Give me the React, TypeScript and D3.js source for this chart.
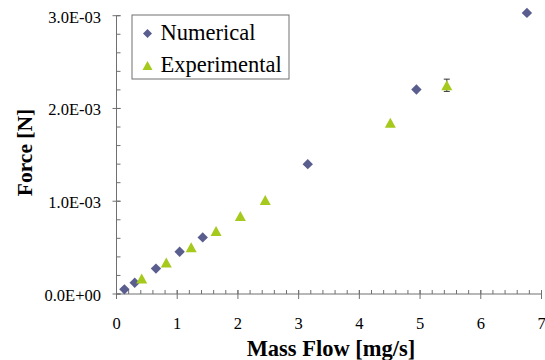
import React from "react";
import * as d3 from "d3";

const numericalX = [0.13, 0.3, 0.65, 1.04, 1.42, 3.15, 4.94, 6.76];
const numericalY = [0.05e-3, 0.122e-3, 0.274e-3, 0.455e-3, 0.61e-3, 1.4e-3, 2.205e-3, 3.03e-3];
const experimentalX = [0.415, 0.82, 1.23, 1.64, 2.04, 2.45, 4.51, 5.44];
const experimentalY = [0.167e-3, 0.34e-3, 0.505e-3, 0.678e-3, 0.84e-3, 1.013e-3, 1.845e-3, 2.25e-3];
const experimentalErr = [0, 0, 0, 0, 0, 0, 0, 0.066e-3];
const xTicks = [0, 1, 2, 3, 4, 5, 6, 7];
const yTicks = [0, 1e-3, 2e-3, 3e-3];
const yTickLabels = ["0.0E+00", "1.0E-03", "2.0E-03", "3.0E-03"];
const legendLabels = ["Numerical", "Experimental"];

const W = 545;
const H = 360;
const DIAMOND = "#5A5E8F";
const TRI = "#A5C91C";
const AXIS = "#707070";
const FONT = "Liberation Serif";

const diamondPath = (r: number) => `M0,${-r}L${r},0L0,${r}L${-r},0Z`;
const trianglePath = (w: number, h: number) => `M0,${-h / 2}L${w / 2},${h / 2}L${-w / 2},${h / 2}Z`;

export default function App() {
  const x = d3.scaleLinear().domain([0, 7]).range([116.5, 541.5]);
  const y = d3.scaleLinear().domain([0, 3e-3]).range([294, 15.7]);
  const xMinor = d3.range(0, 7.0001, 0.2);
  const yMinor = d3.range(0, 3.0001e-3, 0.2e-3);
  const x0 = x(0);
  const y0 = y(0);

  return (
    <svg width={W} height={H} style={{ position: "absolute", left: 0, top: 0, background: "#fff" }}>
      <rect x={0} y={0} width={W} height={H} fill="#fff" />
      <line x1={x0} x2={x(7)} y1={y0} y2={y0} stroke={AXIS} strokeWidth={1} />
      <line x1={x0} x2={x0} y1={y0} y2={y(3e-3)} stroke={AXIS} strokeWidth={1} />
      {xMinor.map((v, i) => (
        <line key={"xm" + i} x1={x(v)} x2={x(v)} y1={y0 - 4} y2={y0} stroke={AXIS} />
      ))}
      {xTicks.map((v) => (
        <g key={"xt" + v}>
          <line x1={x(v)} x2={x(v)} y1={y0 - 4} y2={y0 + 5} stroke={AXIS} />
          <text x={x(v)} y={328.5} textAnchor="middle" fontFamily={FONT} fontSize={16.5} fill="#000">
            {v}
          </text>
        </g>
      ))}
      {yMinor.map((v, i) => (
        <line key={"ym" + i} x1={x0} x2={x0 + 4} y1={y(v)} y2={y(v)} stroke={AXIS} />
      ))}
      {yTicks.map((v, i) => (
        <g key={"yt" + i}>
          <line x1={x0 - 4} x2={x0 + 4} y1={y(v)} y2={y(v)} stroke={AXIS} />
          <text x={101} y={y(v) + 6.8} textAnchor="end" fontFamily={FONT} fontSize={16.5} fill="#000">
            {yTickLabels[i]}
          </text>
        </g>
      ))}
      <text x={331} y={356} textAnchor="middle" fontFamily={FONT} fontSize={22.5} fontWeight="bold" fill="#000">
        Mass Flow [mg/s]
      </text>
      <text
        transform={`translate(31.5,152.5) rotate(-90)`}
        textAnchor="middle"
        fontFamily={FONT}
        fontSize={21.5}
        fontWeight="bold"
        fill="#000"
      >
        Force [N]
      </text>
      {experimentalX.map((v, i) =>
        experimentalErr[i] > 0 ? (
          <g key={"eb" + i} stroke="#333" strokeWidth={1}>
            <line x1={x(v)} x2={x(v)} y1={y(experimentalY[i] + experimentalErr[i])} y2={y(experimentalY[i] - experimentalErr[i])} />
            <line x1={x(v) - 3} x2={x(v) + 3} y1={y(experimentalY[i] + experimentalErr[i])} y2={y(experimentalY[i] + experimentalErr[i])} />
            <line x1={x(v) - 3} x2={x(v) + 3} y1={y(experimentalY[i] - experimentalErr[i])} y2={y(experimentalY[i] - experimentalErr[i])} />
          </g>
        ) : null
      )}
      {numericalX.map((v, i) => (
        <path key={"n" + i} d={diamondPath(5.2)} transform={`translate(${x(v)},${y(numericalY[i])})`} fill={DIAMOND} />
      ))}
      {experimentalX.map((v, i) => (
        <path key={"e" + i} d={trianglePath(11, 10)} transform={`translate(${x(v)},${y(experimentalY[i])})`} fill={TRI} />
      ))}
      <rect x={132} y={15} width={157} height={64} fill="#fff" stroke={AXIS} strokeWidth={1} />
      <path d={diamondPath(4.5)} transform="translate(147.5,33.5)" fill={DIAMOND} />
      <path d={trianglePath(10, 9)} transform="translate(147.5,65.5)" fill={TRI} />
      <text x={160.5} y={39.5} fontFamily={FONT} fontSize={22.5} fill="#000">
        {legendLabels[0]}
      </text>
      <text x={160.5} y={72} fontFamily={FONT} fontSize={22.5} fill="#000">
        {legendLabels[1]}
      </text>
    </svg>
  );
}
